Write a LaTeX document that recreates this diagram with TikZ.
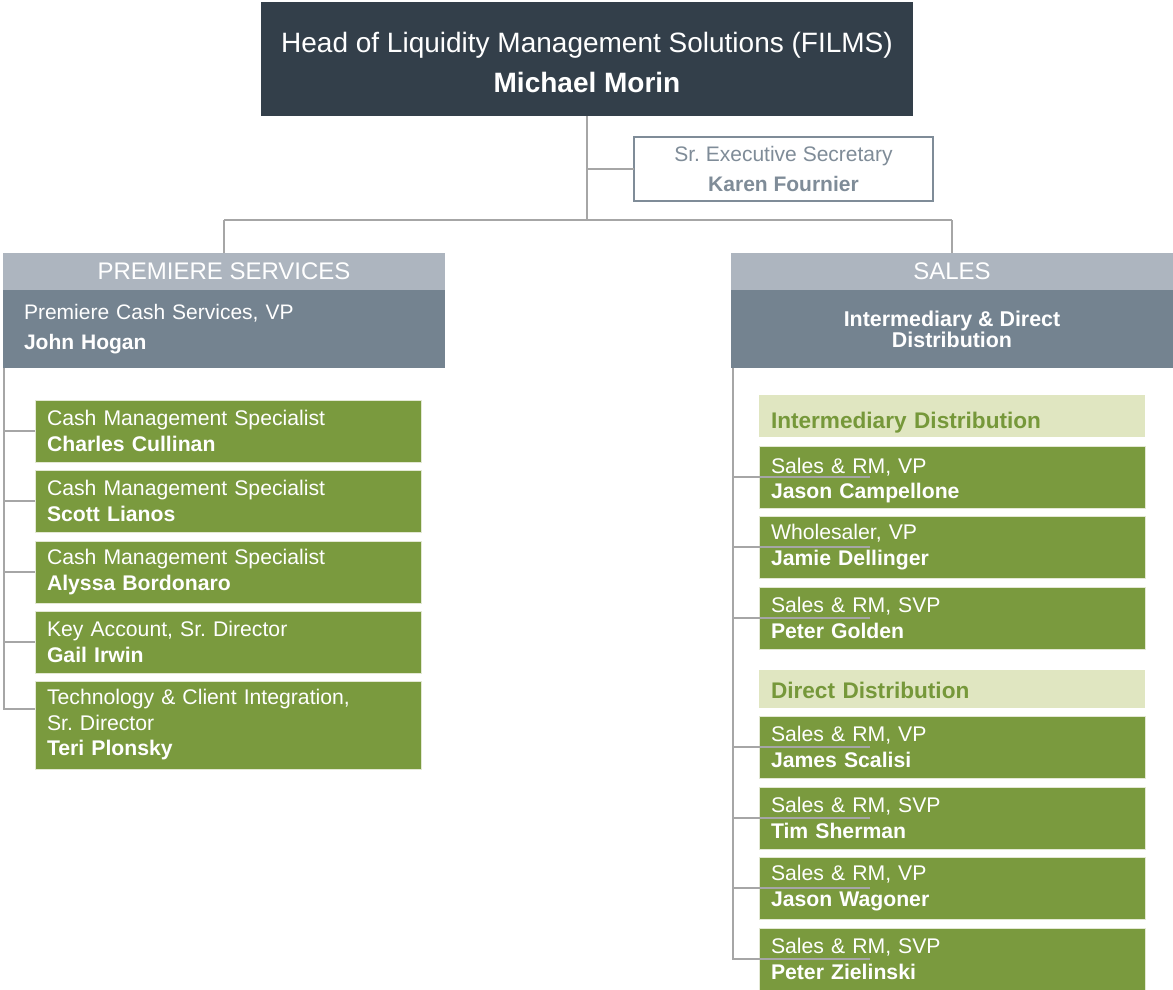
\documentclass[tikz,border=0pt]{standalone}
\usepackage{fontspec}
\setmainfont{Liberation Sans}
\frenchspacing
\definecolor{headDark}{HTML}{333F4A}
\definecolor{deptGray}{HTML}{ADB5BF}
\definecolor{mgrGray}{HTML}{748390}
\definecolor{staffGreen}{HTML}{7A9A3E}
\definecolor{staffEdge}{HTML}{E3E8D3}
\definecolor{groupGreen}{HTML}{E0E6C1}
\definecolor{groupText}{HTML}{76983A}
\definecolor{connGray}{HTML}{A6A6A6}
\definecolor{secGray}{HTML}{7F8C98}
\begin{document}
\begin{tikzpicture}[x=1pt,y=-1pt,
  box/.style={anchor=north west,inner sep=0pt,outer sep=0pt},
  conn/.style={draw=connGray,line width=1.3pt},
  headbox/.style={box,fill=headDark,text=white,align=center,minimum width=652pt,minimum height=114pt,text height=67pt,font=\fontsize{28}{40}\selectfont},
  secbox/.style={box,draw=secGray,line width=1.3pt,fill=white,text=secGray,align=center,minimum width=299pt,minimum height=64pt,font=\fontsize{21}{30}\selectfont},
  dept/.style={box,fill=deptGray,text=white,align=center,minimum width=442pt,minimum height=37pt,font=\fontsize{24}{28}\selectfont},
  mgr/.style={box,fill=mgrGray,text=white,minimum width=442pt,minimum height=78pt},
  staff/.style={box,fill=staffGreen,draw=staffEdge,line width=1pt,text=white,align=left,text width=362pt,inner xsep=12pt,minimum height=62pt,font=\fontsize{21.2}{25.5}\selectfont},
  group/.style={box,fill=groupGreen,text=groupText,align=left,text width=362pt,inner xsep=12pt,text depth=4.6pt,font=\fontsize{22.6}{26}\selectfont\bfseries}
]
  \useasboundingbox (0,0) rectangle (1173,990);
  % top of the chart
  \node[headbox] (head) at (261,2) {Head of Liquidity Management Solutions (FILMS)\\\textbf{Michael Morin}};
  \node[secbox] (sec) at (634,137) {Sr. Executive Secretary\\\textbf{Karen Fournier}};
  \coordinate (hub) at (587,220);
  % premiere services
  \node[dept] (prem) at (3,253) {PREMIERE SERVICES};
  \node[mgr,align=left,text width=400pt,inner xsep=21pt,font=\fontsize{21}{30}\selectfont] (hogan) at (3,290) {Premiere Cash Services, VP\\\textbf{John Hogan}};
  \node[staff] (c1) at (35,400) {Cash Management Specialist\\\textbf{Charles Cullinan}};
  \node[staff] (c2) at (35,470) {Cash Management Specialist\\\textbf{Scott Lianos}};
  \node[staff] (c3) at (35,541) {Cash Management Specialist\\\textbf{Alyssa Bordonaro}};
  \node[staff] (c4) at (35,611) {Key Account, Sr. Director\\\textbf{Gail Irwin}};
  \node[staff,minimum height=88pt] (c5) at (35,681) {Technology \& Client Integration,\\Sr. Director\\\textbf{Teri Plonsky}};
  % sales
  \node[dept] (sales) at (731,253) {SALES};
  \node[mgr,align=center,font=\fontsize{21.4}{21}\selectfont\bfseries] (idd) at (731,290) {Intermediary \& Direct\\Distribution};
  \node[group,minimum height=42pt,text height=30pt] (gi) at (759,395) {Intermediary Distribution};
  \node[group,minimum height=38pt,text height=24pt] (gd) at (759,670) {Direct Distribution};
  \node[staff,text height=22pt] (r1) at (759,446) {Sales \& RM, VP\\\textbf{Jason Campellone}};
  \node[staff] (r2) at (759,516) {Wholesaler, VP\\\textbf{Jamie Dellinger}};
  \node[staff] (r3) at (759,587) {Sales \& RM, SVP\\\textbf{Peter Golden}};
  \node[staff] (r4) at (759,716) {Sales \& RM, VP\\\textbf{James Scalisi}};
  \node[staff] (r5) at (759,787) {Sales \& RM, SVP\\\textbf{Tim Sherman}};
  \node[staff] (r6) at (759,857) {Sales \& RM, VP\\\textbf{Jason Wagoner}};
  \node[staff] (r7) at (759,928) {Sales \& RM, SVP\\\textbf{Peter Zielinski}};
  % connectors
  \draw[conn] (head.south) -- (hub);
  \draw[conn] (head.south |- sec.west) -- (sec.west);
  \draw[conn] (prem.north |- hub) -- (sales.north |- hub);
  \draw[conn] (prem.north |- hub) -- (prem.north);
  \draw[conn] (sales.north |- hub) -- (sales.north);
  \coordinate (lspine) at (4,368);
  \draw[conn] (lspine) |- ([yshift=16pt]c5.west);
  \foreach \n in {c1,c2,c3,c4}
    \draw[conn] (lspine |- \n.west) -- (\n.west);
  \coordinate (rspine) at (733,368);
  \draw[conn] (rspine) |- ([xshift=111pt]r7.west);
  \foreach \n in {r1,r2,r3,r4,r5,r6}
    \draw[conn] (rspine |- \n.west) -- ([xshift=111pt]\n.west);
\end{tikzpicture}
\end{document}
